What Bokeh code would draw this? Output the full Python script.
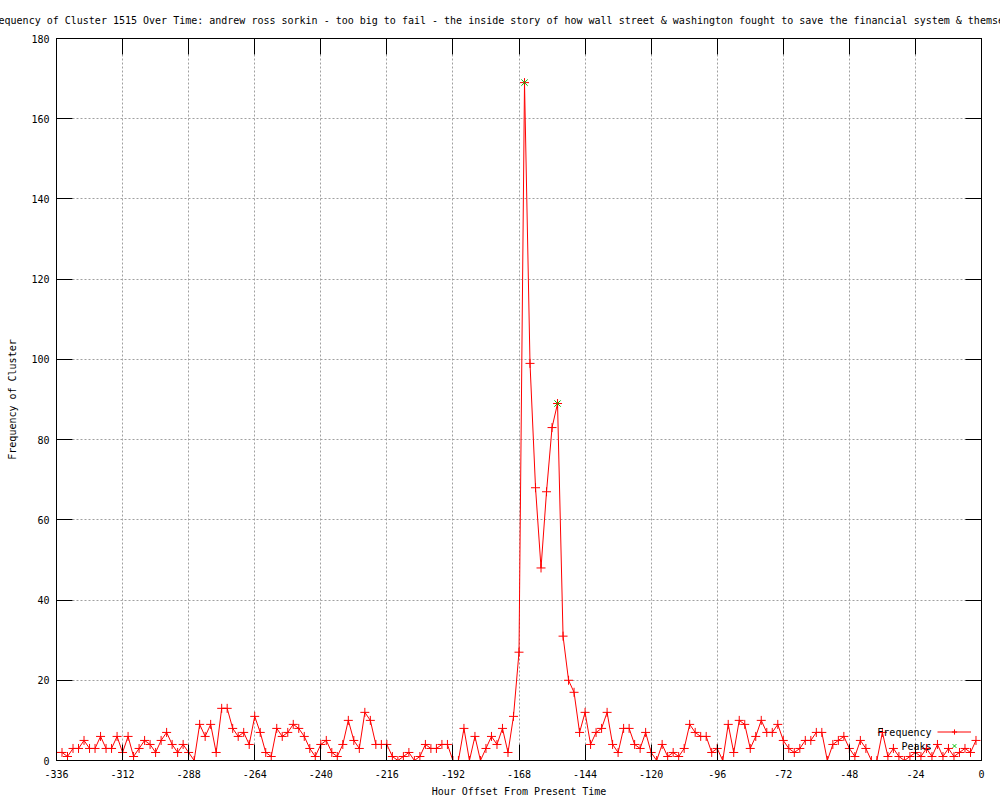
from bokeh.plotting import figure
from bokeh.models import (FixedTicker, LinearAxis, Label, Legend, LegendItem,
                          Range1d, ColumnDataSource)
from bokeh.embed import file_html
from bokeh.resources import INLINE

TITLE = ("Frequency of Cluster 1515 Over Time: andrew ross sorkin - too big to fail - "
         "the inside story of how wall street & washington fought to save the financial "
         "system & themselves")
X_LABEL = "Hour Offset From Present Time"
Y_LABEL = "Frequency of Cluster"
SERIES_NAMES = ["Frequency", "Peaks"]

# hour offsets (every 2 hours, -336 .. -2)
hours = list(range(-336, 0, 2))
freq = [
    2, 2, 1, 3, 3, 5, 3, 3, 6, 3, 3, 6, 2, 6, 1, 3, 5, 4, 2, 5,
    7, 4, 2, 4, 2, 0, 9, 6, 9, 2, 13, 13, 8, 6, 7, 4, 11, 7, 2, 1,
    8, 6, 7, 9, 8, 6, 3, 1, 4, 5, 2, 1, 4, 10, 5, 3, 12, 10, 4, 4,
    4, 1, 0, 1, 2, 0, 1, 4, 3, 3, 4, 4, 0, 0, 8, 0, 6, 0, 3, 6,
    4, 8, 2, 11, 27, 169, 99, 68, 48, 67, 83, 89, 31, 20, 17, 7, 12, 4, 7, 8,
    12, 4, 2, 8, 8, 4, 3, 7, 2, 0, 4, 1, 2, 1, 3, 9, 7, 6, 6, 2,
    3, 0, 9, 2, 10, 9, 3, 6, 10, 7, 7, 9, 5, 3, 2, 3, 5, 5, 7, 7,
    0, 4, 5, 6, 3, 1, 5, 3, 0, 0, 7, 1, 3, 1, 0, 1, 2, 1, 3, 1,
    4, 1, 3, 1, 2, 3, 2, 5,
]
peak_hours = [-166, -154]
peak_vals = [169, 89]

x_ticks = [-336, -312, -288, -264, -240, -216, -192, -168, -144, -120, -96, -72, -48, -24, 0]
x_tick_labels = ["-336", "-312", "-288", "-264", "-240", "-216", "-192", "-168",
                 "-144", "-120", "-96", "-72", "-48", "-24", "0"]
y_ticks = [0, 20, 40, 60, 80, 100, 120, 140, 160, 180]
y_tick_labels = ["0", "20", "40", "60", "80", "100", "120", "140", "160", "180"]

FONT = "DejaVu Sans Mono"
FS = "10px"

p = figure(width=1000, height=800, output_backend="svg", toolbar_location=None,
           x_range=Range1d(-336, 0), y_range=Range1d(0, 180),
           min_border_left=56, min_border_right=19, min_border_top=38,
           min_border_bottom=40, background_fill_color="white",
           border_fill_color="white")
p.outline_line_color = "black"
p.outline_line_width = 1

# title (wider than the canvas, clipped at both sides like the original)
p.title.text = TITLE
p.title.align = "left"
p.title.offset = -70
p.title.text_font = FONT
p.title.text_font_size = FS
p.title.text_font_style = "normal"
p.title.text_color = "black"
p.title.standoff = 25

xa = p.xaxis[0]
ya = p.yaxis[0]
xa.ticker = FixedTicker(ticks=x_ticks)
xa.major_label_overrides = dict(zip(x_ticks, x_tick_labels))
ya.ticker = FixedTicker(ticks=y_ticks)
ya.major_label_overrides = dict(zip(y_ticks, y_tick_labels))
for ax in (xa, ya):
    ax.major_tick_in = 16
    ax.major_tick_out = 0
    ax.minor_tick_line_color = None
    ax.axis_line_color = "black"
    ax.major_tick_line_color = "black"
    ax.major_label_text_font = FONT
    ax.major_label_text_font_size = FS
    ax.major_label_text_color = "black"
    ax.axis_label_text_font = FONT
    ax.axis_label_text_font_size = FS
    ax.axis_label_text_font_style = "normal"
    ax.axis_label_text_color = "black"
xa.major_label_standoff = 9
ya.major_label_standoff = 7
xa.axis_label = X_LABEL
xa.axis_label_standoff = 5
ya.axis_label = Y_LABEL
ya.axis_label_standoff = 10

# mirrored inward ticks on top and right (no labels)
top = LinearAxis(ticker=FixedTicker(ticks=x_ticks), major_tick_in=16, major_tick_out=0,
                 minor_tick_line_color=None, major_label_text_color=None,
                 major_label_text_font_size="1px", major_label_standoff=0,
                 axis_line_color="black", major_tick_line_color="black")
p.add_layout(top, "above")
right = LinearAxis(ticker=FixedTicker(ticks=y_ticks), major_tick_in=16, major_tick_out=0,
                   minor_tick_line_color=None, major_label_text_color=None,
                   major_label_text_font_size="1px", major_label_standoff=0,
                   axis_line_color="black", major_tick_line_color="black")
p.add_layout(right, "right")

p.xgrid.ticker = FixedTicker(ticks=x_ticks)
p.ygrid.ticker = FixedTicker(ticks=y_ticks)
for g in (p.xgrid[0], p.ygrid[0]):
    g.grid_line_color = "#a0a0a0"
    g.grid_line_dash = "2 2"
    g.grid_line_width = 1

src = ColumnDataSource(dict(hour=hours, freq=freq))
ln = p.line("hour", "freq", source=src, line_color="#ff0000", line_width=1)
sc = p.scatter("hour", "freq", source=src, marker="cross", size=9,
               line_color="#ff0000", line_width=1)
pk = p.scatter(peak_hours, peak_vals, marker="x", size=9,
               line_color="#00c000", line_width=1)

# key: samples drawn by a Legend, names as right-aligned text before them
legend = Legend(items=[LegendItem(label=" ", renderers=[ln, sc]),
                       LegendItem(label=" ", renderers=[pk])],
                location=(881, 8), orientation="vertical", glyph_width=34,
                glyph_height=13, label_height=13, spacing=1, padding=0, margin=0,
                label_standoff=0, label_width=1,
                label_text_font=FONT, label_text_font_size=FS,
                background_fill_alpha=0, border_line_alpha=0)
p.add_layout(legend)
for name, yy in zip(SERIES_NAMES, (28, 14)):
    p.add_layout(Label(x=875, y=yy, x_units="screen", y_units="screen", text=name,
                       text_align="right", text_baseline="middle", text_font=FONT,
                       text_font_size=FS, text_color="black"))

open("out.html", "w").write(file_html(p, INLINE))
